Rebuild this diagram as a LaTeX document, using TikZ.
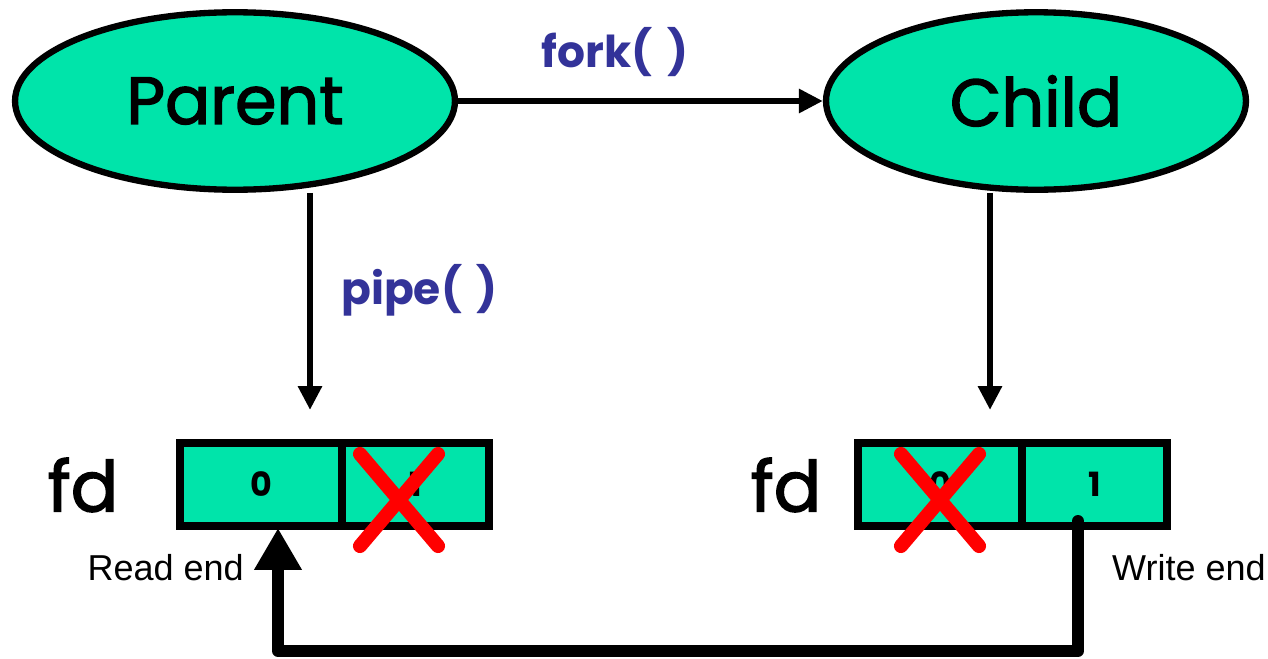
\documentclass[tikz,border=0pt]{standalone}
\usepackage{fontspec}
\setmainfont{Liberation Sans}
\newfontfamily\comic{Poppins}
\newfontfamily\comicmid[FakeBold=2]{Poppins}
\usetikzlibrary{arrows.meta, positioning, shapes.geometric, shapes.misc}
\definecolor{proccolor}{RGB}{0, 228, 170}
\definecolor{callcolor}{RGB}{51, 51, 153}
\definecolor{crosscolor}{RGB}{255, 0, 0}

\begin{document}
\begin{tikzpicture}[
    x=0.02cm, y=-0.02cm,
    proc/.style={draw, ellipse, fill=proccolor, line width=3.6pt, inner sep=0pt, minimum height=3.55cm, font=\comicmid\fontsize{38}{40}\selectfont},
    cell/.style={draw, fill=proccolor, line width=4.5pt, outer sep=0pt, inner sep=0pt, minimum height=1.66cm, font=\comic\bfseries\fontsize{19}{20}\selectfont},
    fdlabel/.style={font=\comicmid\fontsize{40}{42}\selectfont},
    call/.style={text=callcolor, font=\comic\bfseries\fontsize{25}{28}\selectfont},
    endlabel/.style={font=\fontsize{20.5}{24}\selectfont},
    arr/.style={-{Triangle[length=0.48cm, width=0.46cm]}, line width=3.4pt},
    pipeline/.style={-{Triangle[length=0.84cm, width=0.9cm]}, line width=6.8pt, line cap=round, line join=round},
    crossmark/.style={cross out, draw=crosscolor, line width=8pt, line cap=round, inner sep=0pt, minimum width=1.28cm, minimum height=1.56cm}
]
    \useasboundingbox (0,0) rectangle (1268,659);

    % Processes
    \node[proc, minimum width=8.8cm] (parent) at (235,101) {Parent};
    \node[proc, minimum width=8.4cm] (child) at (1036,101) {Child};

    % Parent fd table
    \node[fdlabel] (fdl) at (83,485) {fd};
    \node[cell, minimum width=3.24cm] (l0) at (261,484.5) {0};
    \node[cell, minimum width=2.94cm, right=0pt of l0] (l1) {1};
    \node[crossmark] (xl) at (399,500) {};

    % Child fd table
    \node[fdlabel] (fdr) at (786,485) {fd};
    \node[cell, minimum width=3.28cm] (r0) at (940,484.5) {0};
    \node[cell, minimum width=2.9cm, right=0pt of r0] (r1) {1};
    \node[crossmark] (xr) at (940,500) {};

    % Ends
    \node[endlabel, anchor=east] (readlbl) at (250,568) {Read end};
    \node[endlabel, anchor=west] (writelbl) at (1106,568) {Write end};

    % Calls
    \coordinate (ptip) at (310,410);
    \coordinate (ctip) at (990,410);
    \draw[arr] (parent) -- (child) node[call, pos=0.43, above=0.3cm] (forklbl) {fork(\,\,)};
    \draw[arr] (ptip |- parent.south) -- (ptip) node[call, pos=0.45, right=0.45cm] (pipelbl) {pipe(\,\,)};
    \draw[arr] (ctip |- child.south) -- (ctip);

    % Pipe
    \coordinate (wend) at (1078,521);
    \coordinate (rend) at (278,528);
    \coordinate (fbot) at (0,651);
    \draw[pipeline] (wend) -- (wend |- fbot) -| (rend);
\end{tikzpicture}
\end{document}
